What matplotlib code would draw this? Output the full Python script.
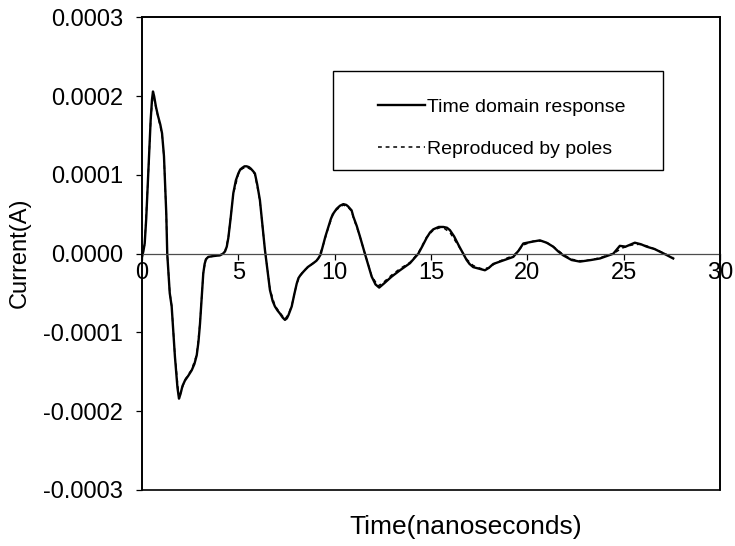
import matplotlib
matplotlib.use('Agg')
import matplotlib.pyplot as plt
from matplotlib.patches import Rectangle

plt.rcParams['font.family'] = ['Liberation Sans', 'DejaVu Sans']

# time (ns) and current (x1e-4 A) of the measured response
t_resp = [0.0, 0.07, 0.14, 0.22, 0.31, 0.45, 0.52, 0.57, 0.63, 0.72, 0.83, 0.95, 1.04, 1.14,
          1.26, 1.31, 1.44, 1.54, 1.71, 1.84, 1.92, 2.00, 2.10, 2.23, 2.40, 2.58,
          2.72, 2.84, 2.93, 3.01, 3.10, 3.18, 3.25, 3.32, 3.44, 3.70, 4.05, 4.20, 4.31, 4.40,
          4.48, 4.60, 4.74, 4.87, 5.00, 5.10, 5.20, 5.32, 5.43, 5.55, 5.65, 5.76,
          5.86, 5.98, 6.12, 6.38, 6.64, 6.78, 6.90, 7.03, 7.16, 7.30, 7.42, 7.52, 7.60, 7.77,
          7.90, 8.03, 8.12, 8.20, 8.37, 8.60, 8.89, 9.05, 9.15, 9.27, 9.38, 9.52, 9.67, 9.80,
          9.90, 10.10, 10.28, 10.45, 10.60, 10.70, 10.88, 10.97, 11.15, 11.31, 11.57, 11.92,
          12.12, 12.31, 12.55, 12.96, 13.39, 13.91, 14.34, 14.56, 14.77, 14.95, 15.12,
          15.40, 15.64, 15.83, 15.98, 16.20, 16.45, 16.85, 17.00, 17.19, 17.50, 17.80, 18.00,
          18.23, 18.70, 19.27, 19.55, 19.79, 20.20, 20.65, 21.00, 21.34, 21.60, 21.86, 22.30,
          22.73, 23.30, 23.77, 24.46, 24.80, 25.10, 25.58, 25.90, 26.19, 26.60, 27.10, 27.57]
i_resp = [-0.04, 0.03, 0.13, 0.45, 0.94, 1.70, 1.96, 2.06, 2.00, 1.87, 1.75, 1.64, 1.53, 1.24,
          0.51, 0.00, -0.50, -0.67, -1.31, -1.70, -1.84, -1.78, -1.68, -1.61, -1.55, -1.48,
          -1.40, -1.29, -1.12, -0.89, -0.55, -0.25, -0.13, -0.07, -0.04, -0.03, -0.02, 0.00, 0.03, 0.09,
          0.20, 0.45, 0.77, 0.93, 1.02, 1.07, 1.09, 1.11, 1.11, 1.10, 1.08, 1.05,
          1.02, 0.88, 0.68, 0.05, -0.46, -0.60, -0.67, -0.72, -0.76, -0.81, -0.84, -0.82, -0.78, -0.67,
          -0.52, -0.38, -0.31, -0.28, -0.23, -0.17, -0.12, -0.09, -0.06, -0.01, 0.09, 0.22, 0.34, 0.44,
          0.50, 0.57, 0.61, 0.63, 0.62, 0.60, 0.55, 0.47, 0.35, 0.22, 0.00, -0.29,
          -0.39, -0.43, -0.38, -0.29, -0.21, -0.12, 0.00, 0.10, 0.20, 0.27, 0.31,
          0.34, 0.34, 0.33, 0.30, 0.22, 0.10, -0.08, -0.13, -0.17, -0.19, -0.21, -0.18,
          -0.13, -0.09, -0.04, 0.04, 0.13, 0.15, 0.17, 0.14, 0.09, 0.03, -0.02, -0.08,
          -0.10, -0.08, -0.06, 0.00, 0.10, 0.09, 0.14, 0.12, 0.09, 0.06, 0.00, -0.06]

# current rebuilt from the extracted poles
t_poles = [0.0, 0.14, 0.31, 0.45, 0.57, 0.72, 0.83, 1.04, 1.14, 1.26, 1.31, 1.44, 1.54, 1.71,
           1.92, 2.23, 2.58, 2.84, 3.01, 3.18, 3.30, 3.44, 4.05, 4.31, 4.48, 4.74, 5.00,
           5.20, 5.43, 5.65, 5.86, 6.12, 6.38, 6.64, 6.90, 7.16, 7.42, 7.60, 7.77, 8.03,
           8.20, 8.37, 8.89, 9.15, 9.38, 9.67, 9.90, 10.10, 10.45, 10.70, 10.88, 10.97,
           11.31, 11.57, 11.92, 12.25, 12.55, 12.96, 13.39, 13.91, 14.34, 14.77, 15.12,
           15.45, 15.70, 15.98, 16.45, 16.85, 17.19, 17.60, 18.00, 18.40, 18.90, 19.30,
           19.79, 20.30, 20.75, 21.10, 21.40, 21.86, 22.30, 22.73, 23.30, 23.77, 24.46,
           24.90, 25.40, 25.80, 26.19, 26.70, 27.57]
i_poles = [-0.03, 0.12, 0.93, 1.69, 2.04, 1.86, 1.74, 1.52, 1.23, 0.50, 0.00, -0.49, -0.66, -1.30,
           -1.83, -1.60, -1.47, -1.28, -0.88, -0.25, -0.08, -0.04, -0.02, 0.03, 0.20, 0.76, 1.01,
           1.08, 1.10, 1.07, 1.01, 0.67, 0.05, -0.45, -0.66, -0.75, -0.83, -0.77, -0.66, -0.38,
           -0.28, -0.22, -0.12, -0.06, 0.09, 0.33, 0.49, 0.56, 0.62, 0.59, 0.54, 0.46,
           0.22, 0.00, -0.28, -0.41, -0.36, -0.27, -0.19, -0.11, 0.01, 0.21, 0.30,
           0.33, 0.32, 0.27, 0.09, -0.07, -0.15, -0.19, -0.18, -0.11, -0.06, -0.02,
           0.11, 0.16, 0.16, 0.13, 0.08, -0.01, -0.07, -0.09, -0.08, -0.05, 0.00,
           0.07, 0.11, 0.12, 0.10, 0.05, -0.05]

x_ticks = [0, 5, 10, 15, 20, 25, 30]
y_ticks = [-0.0003, -0.0002, -0.0001, 0.0, 0.0001, 0.0002, 0.0003]

scale = 1e-4
fig = plt.figure(figsize=(7.35, 5.46), dpi=100)
ax = fig.add_axes([0.1932, 0.1026, 0.7864, 0.8654])

ax.plot(t_resp, [v * scale for v in i_resp], color='black', lw=1.7,
        label='Time domain response', solid_joinstyle='round')
ax.plot(t_poles, [v * scale for v in i_poles], color='black', lw=1.1,
        dashes=(2.5, 2.5), label='Reproduced by poles')

ax.set_xlim(0, 30)
ax.set_ylim(-0.0003, 0.0003)
ax.set_xticks(x_ticks)
ax.set_yticks(y_ticks)
ax.set_yticklabels(['%.4f' % v for v in y_ticks])

# x axis sits on the zero line, frame drawn separately
ax.spines['bottom'].set_position(('data', 0))
ax.spines['bottom'].set_color('0.3')
ax.spines['bottom'].set_linewidth(0.9)
for s in ['top', 'right', 'left']:
    ax.spines[s].set_linewidth(1.2)
ax.add_patch(Rectangle((0, 0), 1, 1, transform=ax.transAxes, fill=False,
                       lw=1.2, color='black', clip_on=False, zorder=5))

ax.tick_params(axis='x', direction='out', length=4, width=0.9, pad=2, labelsize=17)
ax.tick_params(axis='y', direction='out', length=4.5, width=0.9, pad=9, labelsize=17)

ax.set_xlabel('Time(nanoseconds)', fontsize=19)
ax.xaxis.set_label_coords(0.56, -0.053)
ax.set_ylabel('Current(A)', fontsize=17)
ax.yaxis.set_label_coords(-0.193, 0.502)

# legend box drawn by hand, entries placed inside without frame
ax.add_patch(Rectangle((0.330, 0.678), 0.571, 0.208, transform=ax.transAxes,
                       fill=True, facecolor='white', edgecolor='black', lw=1.0, zorder=6))
leg = ax.legend(loc='upper left', bbox_to_anchor=(0.409, 0.829), fontsize=14,
                frameon=False, handlelength=2.4, handletextpad=0.1,
                labelspacing=1.25, borderpad=0, borderaxespad=0)
leg.set_zorder(7)

fig.savefig('out.png', dpi=100)
